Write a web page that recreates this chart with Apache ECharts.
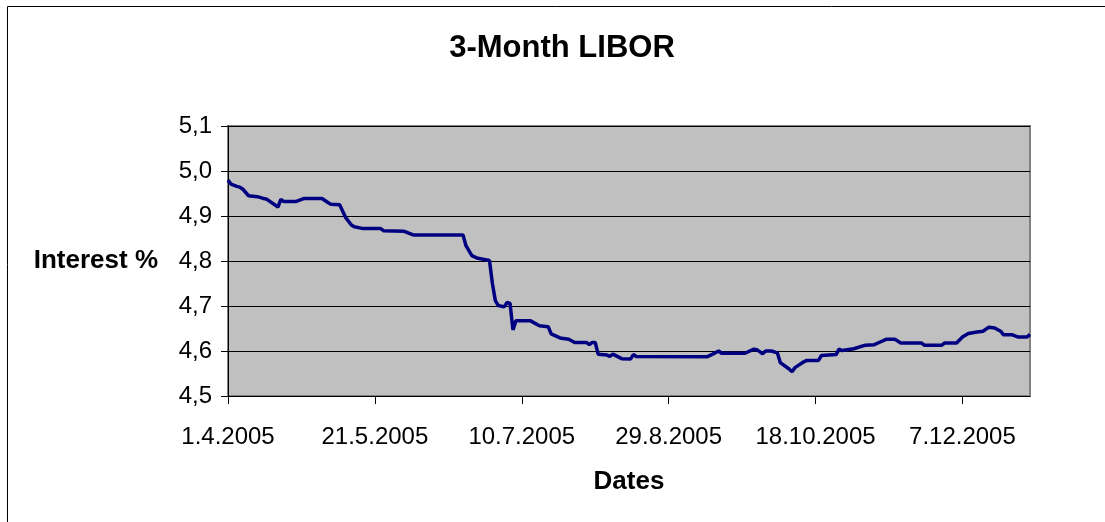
<!DOCTYPE html>
<html>
<head>
<meta charset="utf-8">
<title>3-Month LIBOR</title>
<script src="https://cdn.jsdelivr.net/npm/echarts@6/dist/echarts.min.js"></script>
<style>
  html, body { margin: 0; padding: 0; background: #fff; }
  #chart { width: 1105px; height: 522px; }
</style>
</head>
<body>
<div id="chart"></div>
<script>
// readings: date -> 3M LIBOR in %
var dates = [
  '2005-04-01', '2005-04-02', '2005-04-04', '2005-04-05', '2005-04-06', '2005-04-08',
  '2005-04-11', '2005-04-13', '2005-04-14', '2005-04-18', '2005-04-19', '2005-04-20',
  '2005-04-24', '2005-04-27', '2005-05-03', '2005-05-05', '2005-05-06', '2005-05-09',
  '2005-05-11', '2005-05-13', '2005-05-14', '2005-05-17', '2005-05-23', '2005-05-24',
  '2005-05-31', '2005-06-03', '2005-06-20', '2005-06-21', '2005-06-23', '2005-06-25',
  '2005-06-29', '2005-06-30', '2005-07-01', '2005-07-02', '2005-07-04', '2005-07-05',
  '2005-07-06', '2005-07-07', '2005-07-08', '2005-07-13', '2005-07-16', '2005-07-19',
  '2005-07-20', '2005-07-23', '2005-07-26', '2005-07-28', '2005-08-01', '2005-08-02',
  '2005-08-03', '2005-08-04', '2005-08-05', '2005-08-08', '2005-08-09', '2005-08-10',
  '2005-08-13', '2005-08-16', '2005-08-17', '2005-08-18', '2005-09-11', '2005-09-13',
  '2005-09-15', '2005-09-16', '2005-09-24', '2005-09-27', '2005-09-28', '2005-09-30',
  '2005-10-01', '2005-10-03', '2005-10-05', '2005-10-06', '2005-10-09', '2005-10-10',
  '2005-10-11', '2005-10-14', '2005-10-15', '2005-10-19', '2005-10-20', '2005-10-25',
  '2005-10-26', '2005-10-27', '2005-10-31', '2005-11-04', '2005-11-07', '2005-11-09',
  '2005-11-11', '2005-11-14', '2005-11-16', '2005-11-23', '2005-11-24', '2005-11-30',
  '2005-12-01', '2005-12-05', '2005-12-07', '2005-12-09', '2005-12-12', '2005-12-14',
  '2005-12-16', '2005-12-18', '2005-12-20', '2005-12-21', '2005-12-24', '2005-12-26',
  '2005-12-29', '2005-12-30'
];
var rates = [
  4.980, 4.971, 4.966, 4.964, 4.960, 4.945,
  4.943, 4.939, 4.938, 4.920, 4.937, 4.932,
  4.932, 4.939, 4.939, 4.930, 4.926, 4.925,
  4.897, 4.880, 4.876, 4.872, 4.872, 4.867,
  4.866, 4.858, 4.858, 4.834, 4.812, 4.806,
  4.801, 4.750, 4.712, 4.701, 4.698, 4.708,
  4.706, 4.647, 4.667, 4.667, 4.656, 4.654,
  4.638, 4.629, 4.626, 4.619, 4.619, 4.614,
  4.619, 4.619, 4.593, 4.591, 4.588, 4.593,
  4.583, 4.582, 4.592, 4.588, 4.587, 4.593,
  4.600, 4.595, 4.595, 4.604, 4.603, 4.594,
  4.600, 4.600, 4.596, 4.574, 4.560, 4.554,
  4.563, 4.576, 4.579, 4.579, 4.590, 4.592,
  4.604, 4.601, 4.605, 4.613, 4.614, 4.620,
  4.626, 4.626, 4.618, 4.618, 4.613, 4.613,
  4.618, 4.618, 4.631, 4.639, 4.642, 4.644,
  4.653, 4.651, 4.644, 4.636, 4.636, 4.631,
  4.631, 4.637
];
var tickDates = ['2005-04-01', '2005-05-21', '2005-07-10', '2005-08-29', '2005-10-18', '2005-12-07'];
var yTicks = [4.5, 4.6, 4.7, 4.8, 4.9, 5.0, 5.1];

var FONT = '"Liberation Sans", Arial, sans-serif';
var DAY = 86400000;
var start = Date.UTC(2005, 3, 1);

function dayOf(s) {
  var p = s.split('-');
  return Math.round((Date.UTC(+p[0], p[1] - 1, +p[2]) - start) / DAY);
}
function fmtDay(v) {
  var d = new Date(start + v * DAY);
  return d.getUTCDate() + '.' + (d.getUTCMonth() + 1) + '.' + d.getUTCFullYear();
}

var points = dates.map(function (d, i) { return [dayOf(d), rates[i]]; });
var xTickDays = tickDates.map(dayOf);

var chart = echarts.init(document.getElementById('chart'), null, { renderer: 'canvas' });
chart.setOption({
  animation: false,
  backgroundColor: '#fff',
  textStyle: { fontFamily: FONT },
  graphic: [
    {
      type: 'rect',
      shape: { x: 7.5, y: 6.5, width: 1300, height: 700 },
      style: { fill: null, stroke: '#000', lineWidth: 1 },
      z: 0, silent: true
    },
    {
      type: 'text',
      x: 562, y: 48,
      style: {
        text: '3-Month LIBOR',
        textAlign: 'center', textVerticalAlign: 'middle',
        font: 'bold 31px ' + FONT, fill: '#000'
      }
    }
  ],
  grid: {
    left: 228, top: 126, right: 75, bottom: 126,
    show: true, backgroundColor: '#c0c0c0',
    borderColor: '#808080', borderWidth: 2
  },
  xAxis: {
    type: 'value',
    min: 0,
    max: dayOf(dates[dates.length - 1]),
    name: 'Dates',
    nameLocation: 'middle',
    nameGap: 73,
    nameTextStyle: { fontSize: 26, fontWeight: 'bold', color: '#000' },
    axisLine: { onZero: false, lineStyle: { color: '#000', width: 1 } },
    axisTick: { show: true, length: 8, lineStyle: { color: '#000' }, customValues: xTickDays },
    axisLabel: {
      fontSize: 24, color: '#000', margin: 29,
      customValues: xTickDays,
      formatter: fmtDay
    },
    splitLine: { show: false }
  },
  yAxis: {
    type: 'value',
    min: yTicks[0],
    max: yTicks[yTicks.length - 1],
    interval: 0.1,
    name: 'Interest %',
    nameLocation: 'middle',
    nameRotate: 0,
    nameGap: 70,
    nameTextStyle: { fontSize: 26, fontWeight: 'bold', color: '#000', padding: [6, 0, 0, 0] },
    axisLine: { show: true, lineStyle: { color: '#000', width: 1 } },
    axisTick: { show: true, length: 7, lineStyle: { color: '#000' } },
    axisLabel: {
      fontSize: 24, color: '#000', margin: 16,
      formatter: function (v) { return v.toFixed(1).replace('.', ','); }
    },
    splitLine: { show: true, lineStyle: { color: '#000', width: 1 } }
  },
  series: [{
    type: 'line',
    data: points,
    showSymbol: false,
    lineStyle: { color: '#000080', width: 3.5 },
    itemStyle: { color: '#000080' },
    z: 3
  }]
});
</script>
</body>
</html>
